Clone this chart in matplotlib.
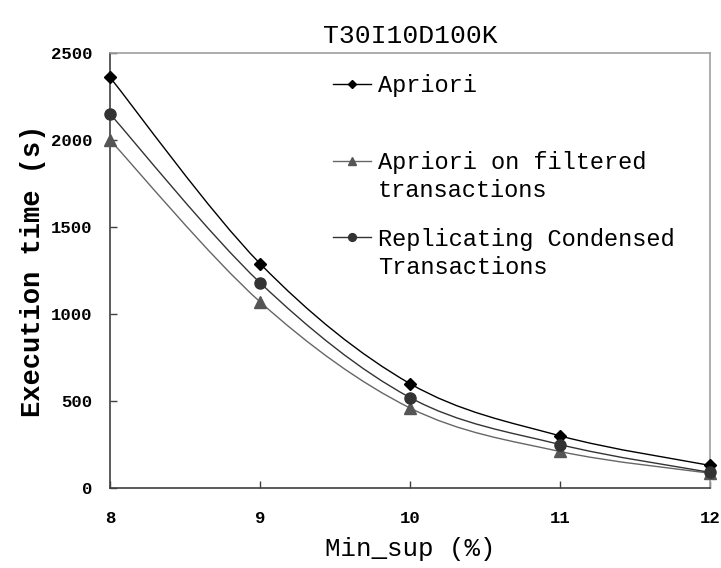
import matplotlib
matplotlib.use("Agg")
import matplotlib.pyplot as plt
from matplotlib.path import Path
from matplotlib.patches import PathPatch
from matplotlib.lines import Line2D

min_sup = [8, 9, 10, 11, 12]
apriori = [2360, 1290, 600, 300, 130]
apriori_filtered = [2000, 1070, 460, 210, 85]
replicating = [2150, 1180, 520, 250, 90]

x_ticks = [8, 9, 10, 11, 12]
y_ticks = [0, 500, 1000, 1500, 2000, 2500]

plt.rcParams['font.family'] = ['Liberation Mono', 'DejaVu Sans']


def smooth_path(xs, ys):
    # Catmull-Rom segments converted to cubic Bezier pieces
    pts = list(zip(xs, ys))
    verts = [pts[0]]
    codes = [Path.MOVETO]
    n = len(pts)
    for i in range(n - 1):
        p0 = pts[i - 1] if i > 0 else pts[i]
        p1 = pts[i]
        p2 = pts[i + 1]
        p3 = pts[i + 2] if i + 2 < n else pts[i + 1]
        c1 = (p1[0] + (p2[0] - p0[0]) / 6, p1[1] + (p2[1] - p0[1]) / 6)
        c2 = (p2[0] - (p3[0] - p1[0]) / 6, p2[1] - (p3[1] - p1[1]) / 6)
        verts += [c1, c2, p2]
        codes += [Path.CURVE4] * 3
    return Path(verts, codes)


fig = plt.figure(figsize=(7.21, 5.68), dpi=100)
ax = fig.add_axes([0.1526, 0.1408, 0.8321, 0.7659])

series = [
    ("Apriori", apriori, "D", "#000000", "#000000", 6.5),
    ("Apriori on filtered", apriori_filtered, "^", "#555555", "#666666", 9),
    ("Replicating Condensed", replicating, "o", "#333333", "#333333", 8),
]

handles = []
for label, vals, marker, mcolor, lcolor, ms in series:
    ax.add_patch(PathPatch(smooth_path(min_sup, vals), fill=False,
                           edgecolor=lcolor, lw=1.0, transform=ax.transData))
    ax.plot(min_sup, vals, linestyle='none', marker=marker, ms=ms,
            color=mcolor, clip_on=False, zorder=4)
    handles.append(Line2D([], [], color=lcolor, lw=1.0, marker=marker,
                          ms=ms * 0.7, markerfacecolor=mcolor,
                          markeredgecolor=mcolor))

ax.set_xlim(8, 12)
ax.set_ylim(0, 2500)
ax.set_xticks(x_ticks)
ax.set_yticks(y_ticks)
ax.tick_params(direction='in', length=5, width=1, colors='#404040',
               labelcolor='black', labelsize=12.5, pad=12.5)
ax.tick_params(axis='x', pad=16.5)
for lab in ax.get_xticklabels() + ax.get_yticklabels():
    lab.set_fontweight('bold')

ax.spines['left'].set_color('#404040')
ax.spines['bottom'].set_color('#404040')
ax.spines['top'].set_color('#a0a0a0')
ax.spines['right'].set_color('#a0a0a0')
for s in ax.spines.values():
    s.set_linewidth(1.2)

ax.set_title("T30I10D100K", fontsize=19, pad=7)
ax.set_xlabel("Min_sup (%)", fontsize=18.5, labelpad=8)
ax.set_ylabel("Execution time (s)", fontsize=19.5, fontweight='bold', labelpad=4)

leg = ax.legend(handles, [s[0] for s in series], loc='upper left',
                bbox_to_anchor=(0.372, 0.951), frameon=False, fontsize=17,
                handlelength=1.6, handletextpad=0.3, labelspacing=2.27,
                borderpad=0, borderaxespad=0)

fig.canvas.draw()
texts = leg.get_texts()
for t, extra in [(texts[1], "transactions"), (texts[2], "Transactions")]:
    ax.annotate(extra, xy=(0, 0), xycoords=t, xytext=(0, -28),
                textcoords='offset pixels', va='bottom', ha='left',
                fontsize=17)

fig.savefig("out.png", dpi=100)
